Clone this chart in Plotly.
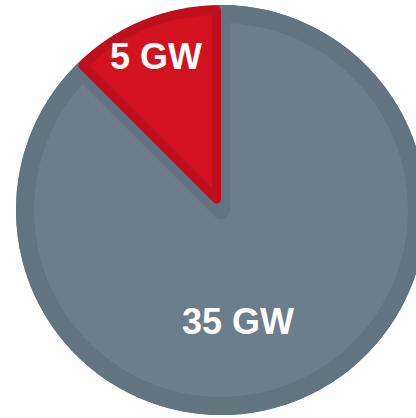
import math
import plotly.graph_objects as go

labels = ["Gray", "Red"]
values = [35, 5]
text_labels = ["35 GW", "5 GW"]
fill_colors = ["#6C7E8B", "#D3121F"]
edge_colors = ["#617480", "#BE101C"]

W, H = 442, 418
CY = 210      # pie centre (px from top)
R = 205       # outer radius (px)
BAND = 9      # inner border band width (px)
CLEAR = "rgba(0,0,0,0)"


def ydom(r):
    return [(H - CY - r) / H, (H - CY + r) / H]


common = dict(labels=labels, values=values, sort=False, direction="clockwise",
              rotation=0, showlegend=False, hoverinfo="none", textinfo="none")

fig = go.Figure()
# base: full-size dark pie
fig.add_trace(go.Pie(**common, marker=dict(colors=edge_colors, line=dict(width=0)),
                     domain=dict(x=[0, 1], y=ydom(R))))
# gray slice: light fill with dark inner band
fig.add_trace(go.Pie(**common,
                     marker=dict(colors=[fill_colors[0], CLEAR],
                                 line=dict(color=[edge_colors[0], CLEAR], width=[2 * BAND, 0])),
                     domain=dict(x=[0, 1], y=ydom(R - BAND))))
# red slice: pulled outward a little so its band lies on its own side of the edges
half = math.pi * values[1] / sum(values)
shift = (BAND / 2) / math.sin(half)
rho = (R - BAND / 2) - shift
pull = shift / rho
fig.add_trace(go.Pie(**common, pull=[0, pull],
                     marker=dict(colors=[CLEAR, fill_colors[1]],
                                 line=dict(color=[CLEAR, edge_colors[1]], width=[0, BAND])),
                     domain=dict(x=[0, 1], y=ydom(rho * (1 + pull)))))

label_pos = [(238, 321), (155.5, 57)]
for t, (px, py) in zip(text_labels, label_pos):
    fig.add_annotation(text=t, x=px / W, y=1 - py / H, xref="paper", yref="paper",
                       showarrow=False, xanchor="center", yanchor="middle",
                       font=dict(family="Liberation Sans", size=36, color="white", weight="bold"))

fig.update_layout(
    width=W, height=H,
    margin=dict(l=0, r=0, t=0, b=0),
    paper_bgcolor="white",
    plot_bgcolor="white",
)

fig.write_html("out.html", config={"displayModeBar": False},
               post_script="document.body.style.margin='0';document.body.style.overflow='hidden';")
